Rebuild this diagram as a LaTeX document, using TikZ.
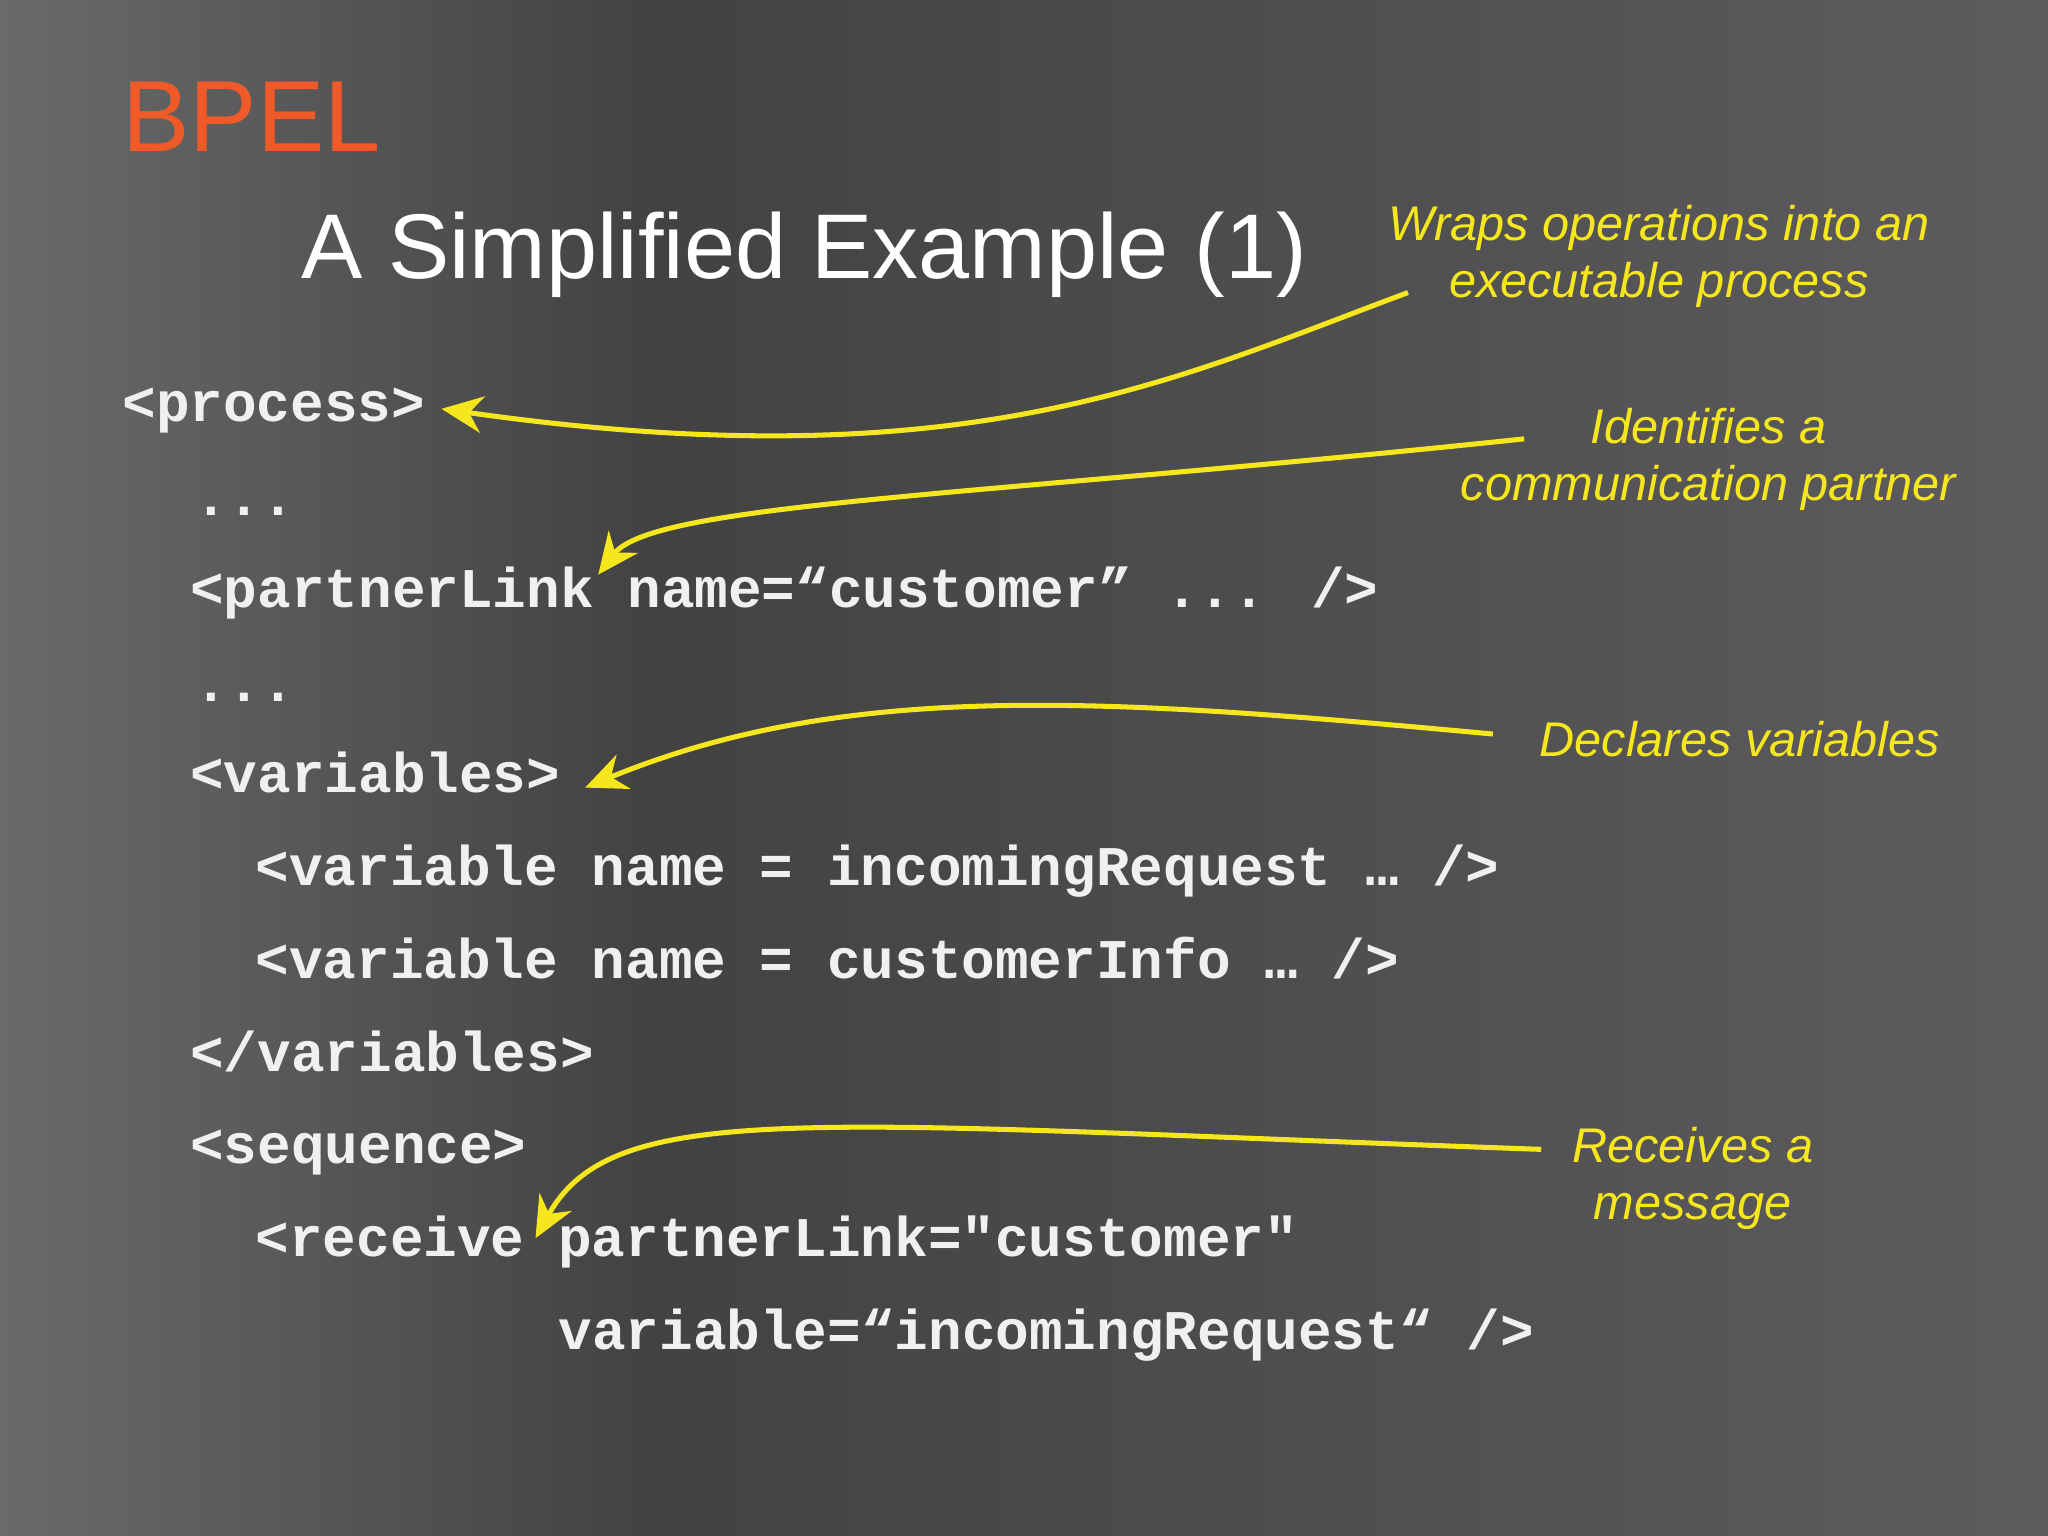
\documentclass[tikz,border=0pt]{standalone}
\usepackage{fontspec}
\setmainfont{Liberation Sans}
\newfontfamily\codefont{Liberation Mono}
\usetikzlibrary{arrows.meta}
\definecolor{bpelorange}{HTML}{F05A28}
\definecolor{annoy}{HTML}{F5E61E}
\definecolor{bgleft}{HTML}{6A6A6A}
\definecolor{bgmid}{HTML}{424242}
\definecolor{bgright}{HTML}{5E5C5E}
\tikzset{
  code/.style={anchor=base west,inner sep=0pt,text=white!94!black,font=\codefont\bfseries\fontsize{12.2pt}{14pt}\selectfont},
  anno/.style={align=center,text=annoy,inner sep=0pt,font=\itshape\fontsize{10.6pt}{12.4pt}\selectfont},
  pointer/.style={draw=annoy,line width=1.1pt,-{Stealth[length=9pt,width=8pt]}}
}
\begin{document}
\begin{tikzpicture}[x=0.01cm,y=-0.01cm]
\useasboundingbox (0,0) rectangle (1568,1176);
\shade[left color=bgleft,right color=bgmid] (0,0) rectangle (500,1176);
\shade[left color=bgmid,right color=bgright] (500,0) rectangle (1568,1176);
\node[anchor=base west,inner sep=0pt,text=bpelorange,font=\fontsize{22pt}{26pt}\selectfont] (t1) at (93,116) {BPEL};
\node[anchor=base west,inner sep=0pt,text=white,font=\fontsize{20pt}{24pt}\selectfont] (t2) at (230,213) {A Simplified Example (1)};
\node[code] (c1) at (93,323) {<process>};
\node[code] (c2) at (148,395) {...};
\node[code] (c3) at (145,465) {<partnerLink name=“customer” ... />};
\node[code] (c4) at (148,537) {...};
\node[code] (c5) at (145,607) {<variables>};
\node[code] (c6) at (195,678) {<variable name = incomingRequest … />};
\node[code] (c7) at (195,749) {<variable name = customerInfo … />};
\node[code] (c8) at (145,820) {</variables>};
\node[code] (c9) at (145,891) {<sequence>};
\node[code] (c10) at (195,962) {<receive partnerLink="customer"};
\node[code] (c11) at (427,1033) {variable=“incomingRequest“ />};
\node[anno] (a1) at (1270,196) {Wraps operations into an\\executable process};
\node[anno] (a2) at (1308,352) {Identifies a\\communication partner};
\node[anno] (a3) at (1332,566) {Declares variables};
\node[anno] (a4) at (1296,902) {Receives a\\message};
\coordinate (s1) at (1078,224);
\coordinate (e1) at (338,313);
\coordinate (s2) at (1167,336);
\coordinate (e2) at (458,440);
\coordinate (s3) at (1143,562);
\coordinate (e3) at (448,603);
\coordinate (s4) at (1180,880);
\coordinate (e4) at (410,948);
\draw[pointer] (s1) .. controls (900,290) and (740,370) .. (e1);
\draw[pointer] (s2) .. controls (750,380) and (500,385) .. (e2);
\draw[pointer] (s3) .. controls (850,535) and (650,520) .. (e3);
\draw[pointer] (s4) .. controls (620,860) and (470,840) .. (e4);
\end{tikzpicture}
\end{document}
